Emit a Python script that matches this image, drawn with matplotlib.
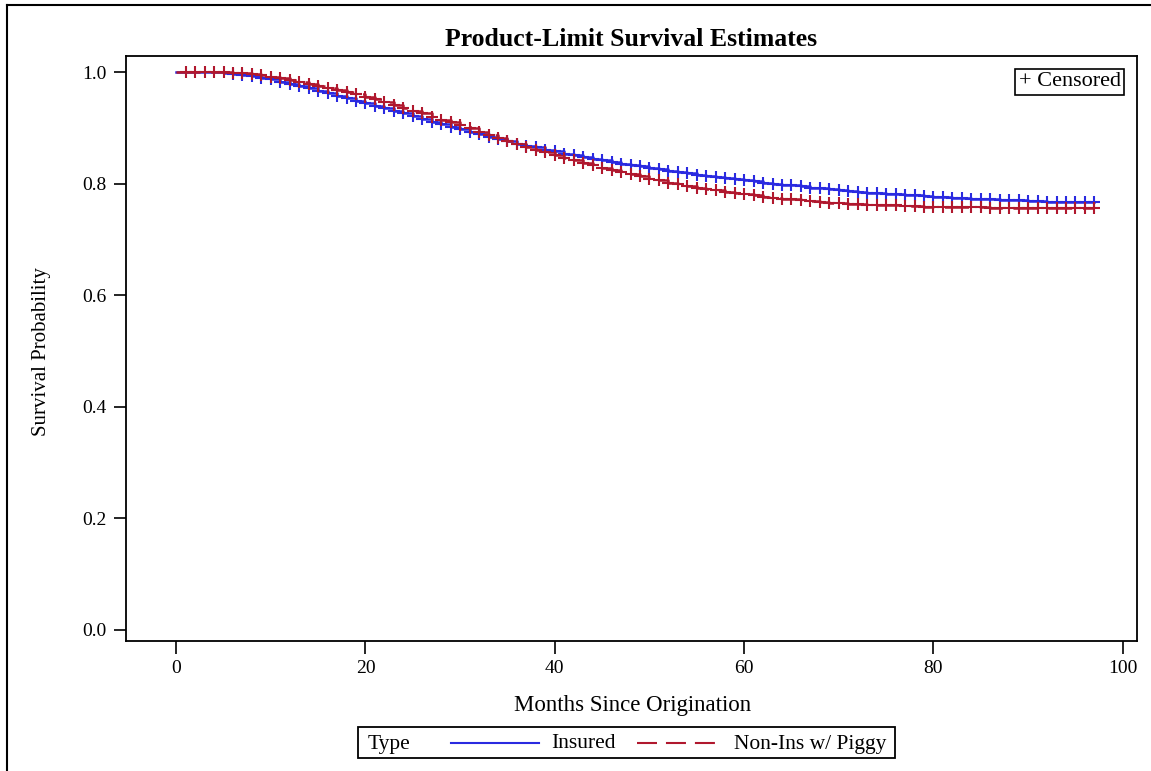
import matplotlib.pyplot as plt
from matplotlib.lines import Line2D
from matplotlib.patches import Rectangle

plt.rcParams['font.family'] = ['Liberation Serif', 'DejaVu Serif']

W, H = 1151, 771

# Kaplan-Meier estimates (month 0..97)
months = list(range(0, 98))
insured = [1.000, 1.000, 1.000, 1.000, 1.000, 0.999, 0.997, 0.995, 0.993, 0.990, 0.987,
           0.983, 0.979, 0.975, 0.971, 0.967, 0.963, 0.958, 0.954, 0.949, 0.945,
           0.940, 0.935, 0.930, 0.926, 0.921, 0.916, 0.911, 0.907, 0.902, 0.898,
           0.893, 0.889, 0.884, 0.880, 0.876, 0.872, 0.868, 0.865, 0.861, 0.858,
           0.854, 0.851, 0.848, 0.845, 0.842, 0.839, 0.836, 0.833, 0.831, 0.828,
           0.826, 0.823, 0.821, 0.819, 0.816, 0.814, 0.812, 0.810, 0.808, 0.806,
           0.804, 0.802, 0.800, 0.798, 0.797, 0.795, 0.793, 0.792, 0.790, 0.789,
           0.787, 0.786, 0.784, 0.783, 0.782, 0.781, 0.780, 0.779, 0.778, 0.777,
           0.776, 0.775, 0.774, 0.773, 0.772, 0.772, 0.771, 0.770, 0.770, 0.769,
           0.769, 0.768, 0.768, 0.768, 0.768, 0.768, 0.768]
non_ins = [1.000, 1.000, 1.000, 1.000, 1.000, 1.000, 0.999, 0.998, 0.997, 0.995, 0.992,
           0.989, 0.986, 0.983, 0.979, 0.976, 0.972, 0.968, 0.964, 0.960, 0.956,
           0.951, 0.946, 0.941, 0.936, 0.931, 0.926, 0.920, 0.915, 0.910, 0.905,
           0.899, 0.893, 0.888, 0.882, 0.877, 0.871, 0.866, 0.861, 0.856, 0.851,
           0.846, 0.842, 0.837, 0.833, 0.829, 0.825, 0.821, 0.817, 0.813, 0.809,
           0.806, 0.802, 0.799, 0.796, 0.793, 0.790, 0.788, 0.785, 0.783, 0.781,
           0.779, 0.777, 0.775, 0.773, 0.772, 0.770, 0.769, 0.767, 0.766, 0.765,
           0.764, 0.763, 0.762, 0.762, 0.761, 0.761, 0.760, 0.760, 0.759, 0.759,
           0.759, 0.758, 0.758, 0.758, 0.758, 0.757, 0.757, 0.757, 0.757, 0.757,
           0.757, 0.757, 0.757, 0.757, 0.757, 0.757, 0.757]
ins_censor_start = 6   # first month with a censor mark
non_censor_start = 1

labels = ['Insured', 'Non-Ins w/ Piggy']
colors = ['#2a2ae0', '#b0182e']
xticks = [0, 20, 40, 60, 80, 100]
yticks = [0.0, 0.2, 0.4, 0.6, 0.8, 1.0]
dash = (9.6, 4.3)


def fx(px):
    return px / W


def fy(py):
    return 1 - py / H


fig = plt.figure(figsize=(W / 100, H / 100), dpi=100)

# outer frame of the page
fig.add_artist(Line2D([fx(7), fx(7)], [fy(5), 0], transform=fig.transFigure, color='black', lw=1.5))
fig.add_artist(Line2D([fx(7), 1], [fy(5), fy(5)], transform=fig.transFigure, color='black', lw=1.5))

ax = fig.add_axes([fx(126), fy(641), fx(1137) - fx(126), fy(56) - fy(641)])

ax.plot(months, insured, drawstyle='steps-post', color=colors[0], lw=1.8)
ax.plot(months, non_ins, drawstyle='steps-post', color=colors[1], lw=1.8, dashes=dash)
ax.plot(months[ins_censor_start:], insured[ins_censor_start:], ls='none', marker='+',
        ms=9, mew=1.5, color=colors[0])
ax.plot(months[non_censor_start:], non_ins[non_censor_start:], ls='none', marker='+',
        ms=9, mew=1.5, color=colors[1])

ax.set_xlim(-5.3, 101.5)
ax.set_ylim(-0.02, 1.029)
ax.set_xticks(xticks)
ax.set_yticks(yticks)
ax.set_yticklabels([f'{v:.1f}' for v in yticks])
ax.tick_params(direction='out', length=9, width=1.2, labelsize=14, pad=5)
for s in ax.spines.values():
    s.set_linewidth(1.3)

ax.text(0.984, 0.956, '+ Censored', transform=ax.transAxes, ha='right', va='center',
        fontsize=16, bbox=dict(boxstyle='square,pad=0.15', fc='white', ec='black', lw=1.2))

fig.text(fx(631), fy(40), 'Product-Limit Survival Estimates', ha='center', va='center',
         fontsize=18.5, fontweight='bold')
fig.text(fx(42), fy(352), 'Survival Probability', rotation=90, ha='center', va='center',
         fontsize=15)
fig.text(fx(633), fy(706), 'Months Since Origination', ha='center', va='center', fontsize=16.5)

# bottom legend box
fig.add_artist(Rectangle((fx(358), fy(758)), fx(895) - fx(358), fy(727) - fy(758),
                         transform=fig.transFigure, fill=False, ec='black', lw=1.3))
fig.text(fx(368), fy(744), 'Type', ha='left', va='center', fontsize=15.5)
fig.add_artist(Line2D([fx(451), fx(539)], [fy(743), fy(743)], transform=fig.transFigure,
                      color=colors[0], lw=1.5))
fig.text(fx(551), fy(744), labels[0], ha='left', va='center', fontsize=15.5)
fig.add_artist(Line2D([fx(637), fx(716)], [fy(743), fy(743)], transform=fig.transFigure,
                      color=colors[1], lw=1.5, dashes=dash))
fig.text(fx(734), fy(744), labels[1], ha='left', va='center', fontsize=15.5)

fig.savefig('out.png', dpi=100)
